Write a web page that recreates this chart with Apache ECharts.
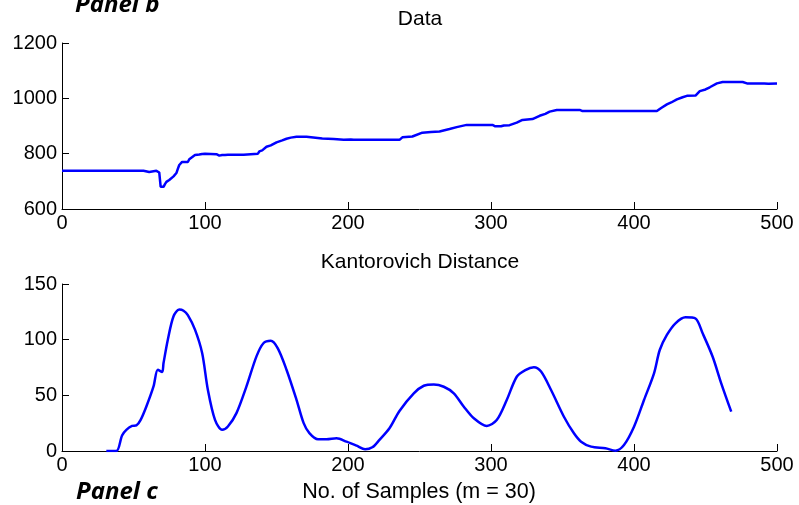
<!DOCTYPE html>
<html><head><meta charset="utf-8">
<script src="https://cdn.jsdelivr.net/npm/echarts@6/dist/echarts.min.js"></script>
<style>html,body{margin:0;padding:0;background:#fff}#c{width:799px;height:505px}</style>
</head><body><div id="c"></div>
<script>
// Panel b: Data
const dataX = [0,38,39,40,57,58,61,62,66,67,68,69,71,72,73,75,76,78,80,81,82,84,88,89,90,93,96,98,100,108,110,112,113,114,116,127,137,138,140,143,146,150,154,157,160,164,171,172,182,190,197,202,203,204,236,238,245,246,252,258,264,265,271,276,283,301,303,307,309,313,318,322,329,334,338,341,346,362,364,416,419,423,426,430,434,437,443,446,450,453,458,462,476,479,486,487,488,491,492,494,500];
const dataY = [738,738,733,738,738,734,734,736,738,736,732,680,680,690,698,705,712,718,730,745,759,770,770,780,784,795,797,799,800,798,793,795,789,795,796,796,800,808,812,825,830,841,848,854,858,861,861,857,855,853,850,851,854,850,850,859,862,866,876,878,880,884,889,896,904,904,899,899,902,903,912,922,925,937,944,952,958,958,954,954,965,978,985,996,1004,1009,1010,1026,1032,1040,1054,1059,1059,1054,1054,1049,1054,1054,1049,1053,1054];
// Panel c: Kantorovich Distance
const kdX = [31,38,42,45,49,52,55,59,64,67,70,71,74,78,82,85,88,93,98,102,107,112,116,122,129,136,141,146,151,157,164,169,173,179,185,192,199,206,212,217,222,229,236,246,253,260,267,274,281,288,297,304,311,318,324,330,335,342,351,358,363,370,380,387,393,400,407,414,418,423,429,436,443,448,455,461,468];
const kdY = [0,0,14,19,22.5,23,28,40,58,73,71,79,100,121,127,126,122,109,88,55,28,19,22,34,58,85,97,99,92,73,46,25,16,10.5,10.5,11.4,8.4,4.8,1.5,3.3,10,20.4,36,51.8,58.6,59.8,57.7,51.8,39.8,29.4,22.5,27.8,45.8,66.7,72.7,75.2,71.3,54.8,30.8,15.9,8.4,3.9,2.4,0.3,5.4,21.8,45.8,69.8,90.7,104.2,114.7,120.1,119,105.7,84.7,60.8,35.3];
const titles = ['Data','Kantorovich Distance'];
const xName = 'No. of Samples (m = 30)';
const panelLabels = ['Panel b','Panel c'];

const pairs = (xs, ys) => xs.map((x, i) => [x, ys[i]]);
const font = 'Liberation Sans, Arial, sans-serif';
const axisCommon = {
  axisLine: {show: true, lineStyle: {color: '#000', width: 1}},
  axisTick: {show: true, inside: true, length: 7, lineStyle: {color: '#000', width: 1}},
  splitLine: {show: false},
  axisLabel: {color: '#000', fontSize: 20, fontFamily: font, formatter: v => String(v)}
};
const xAxis = (idx) => Object.assign({}, axisCommon, {
  type: 'value', gridIndex: idx, min: 0, max: 500, interval: 100,
  axisLabel: Object.assign({}, axisCommon.axisLabel, {margin: 4, showMaxLabel: true, showMinLabel: true})
});
const yAxis = (idx, min, max, interval) => Object.assign({}, axisCommon, {
  type: 'value', gridIndex: idx, min: min, max: max, interval: interval,
  axisLabel: Object.assign({}, axisCommon.axisLabel, {margin: 5})
});

const chart = echarts.init(document.getElementById('c'), null, {renderer: 'canvas'});
chart.setOption({
  animation: false,
  backgroundColor: '#fff',
  grid: [
    {left: 62, right: 22, top: 43, height: 166},
    {left: 62, right: 22, top: 284, height: 167}
  ],
  xAxis: [xAxis(0), xAxis(1)],
  yAxis: [yAxis(0, 600, 1200, 200), yAxis(1, 0, 150, 50)],
  series: [
    {type: 'line', xAxisIndex: 0, yAxisIndex: 0, data: pairs(dataX, dataY), showSymbol: false,
     lineStyle: {color: '#0000ff', width: 2.5}, itemStyle: {color: '#0000ff'}},
    {type: 'line', xAxisIndex: 1, yAxisIndex: 1, data: pairs(kdX, kdY), showSymbol: false, smooth: 0.3,
     lineStyle: {color: '#0000ff', width: 2.5}, itemStyle: {color: '#0000ff'}}
  ],
  graphic: [
    {type: 'text', x: 420, y: 19, style: {text: titles[0], font: '21px ' + font, fill: '#000', textAlign: 'center', textVerticalAlign: 'middle'}},
    {type: 'text', x: 420, y: 262, style: {text: titles[1], font: '21px ' + font, fill: '#000', textAlign: 'center', textVerticalAlign: 'middle'}},
    {type: 'text', x: 419, y: 492, style: {text: xName, font: '21.5px ' + font, fill: '#000', textAlign: 'center', textVerticalAlign: 'middle'}},
    {type: 'text', x: 75, y: 5, style: {text: panelLabels[0], font: 'italic bold 24px "Open Sans", sans-serif', fill: '#000', textAlign: 'left', textVerticalAlign: 'middle'}},
    {type: 'text', x: 76, y: 492, style: {text: panelLabels[1], font: 'italic bold 24px "Open Sans", sans-serif', fill: '#000', textAlign: 'left', textVerticalAlign: 'middle'}}
  ]
});
</script></body></html>
